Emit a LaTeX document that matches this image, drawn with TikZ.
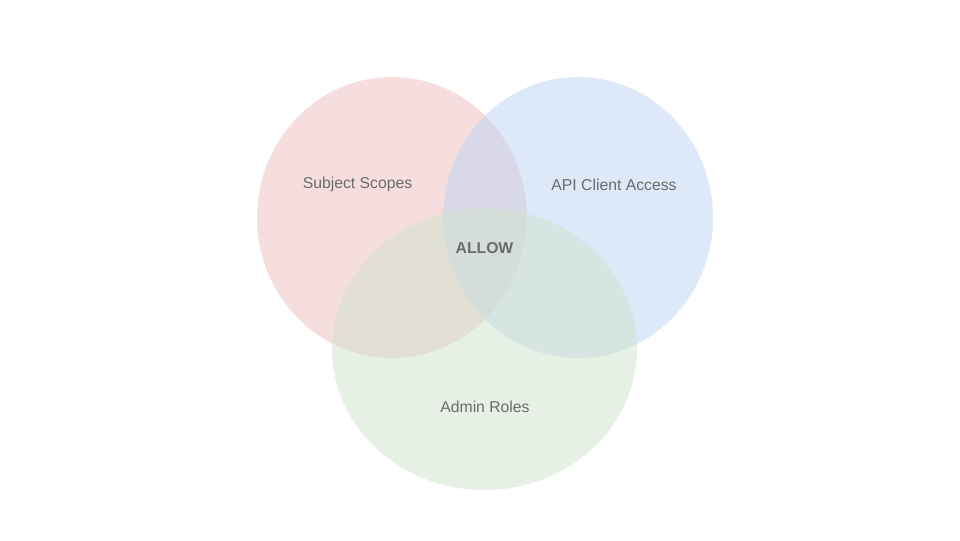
\documentclass[tikz,border=0pt]{standalone}
\usepackage{fontspec}
\setmainfont{Liberation Sans}
\begin{document}
\begin{tikzpicture}[x=0.75pt,y=-0.75pt,
  setfill/.style={fill opacity=0.5,draw=none},
  lbl/.style={text=black!58,font=\fontsize{11.8}{13}\selectfont,inner sep=0pt,text opacity=1},
  boldlbl/.style={text=black!58,font=\fontsize{11.8}{13}\selectfont\bfseries,inner sep=0pt}]
\definecolor{setred}{RGB}{238,190,190}
\definecolor{setblue}{RGB}{189,211,245}
\definecolor{setgreen}{RGB}{208,227,204}
\useasboundingbox (0,0) rectangle (960,540);
\fill[white] (0,0) rectangle (960,540);
\fill[setfill,setred] (392,217.5) ellipse [x radius=135,y radius=140.5];
\fill[setfill,setblue] (578,217.5) ellipse [x radius=135,y radius=140.5];
\fill[setfill,setgreen] (484.5,349) ellipse [x radius=152.5,y radius=141];
\node[lbl] (subj) at (357.5,184.5) {Subject Scopes};
\node[lbl] (api) at (614,184.5) {API Client Access};
\node[boldlbl] (allow) at (484.5,248.5) {ALLOW};
\node[lbl] (admin) at (485,406.5) {Admin Roles};
\end{tikzpicture}
\end{document}
